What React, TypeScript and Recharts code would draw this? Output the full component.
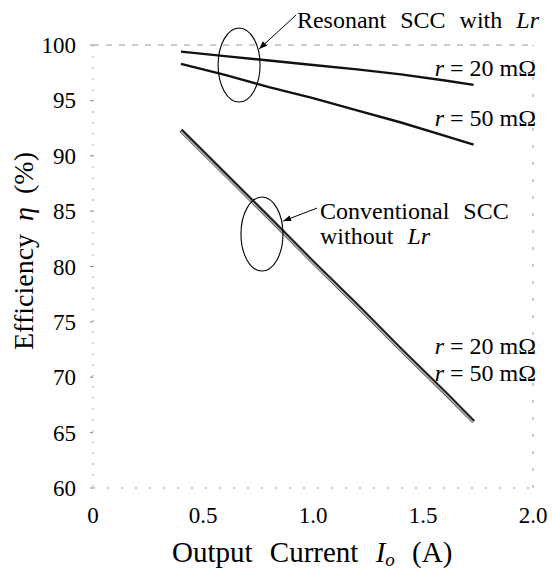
import { LineChart, Line, XAxis, YAxis, ReferenceLine, ReferenceDot } from 'recharts';

const current = [0.4, 0.6, 0.8, 1.0, 1.2, 1.4, 1.6, 1.73];
const resonant20 = [99.4, 99.0, 98.6, 98.2, 97.8, 97.35, 96.8, 96.4];
const resonant50 = [98.3, 97.3, 96.2, 95.2, 94.1, 93.0, 91.8, 91.0];
const conventional20 = [92.3, 88.35, 84.4, 80.4, 76.5, 72.5, 68.6, 66.0];
const conventional50 = [92.2, 88.25, 84.3, 80.3, 76.4, 72.4, 68.5, 65.9];

const xTicks = [0, 0.5, 1.0, 1.5, 2.0];
const xTickLabels = ['0', '0.5', '1.0', '1.5', '2.0'];
const yTicks = [60, 65, 70, 75, 80, 85, 90, 95, 100];

const data = current.map((c, i) => ({
  current: c,
  res20: resonant20[i],
  res50: resonant50[i],
  conv20: conventional20[i],
  conv50: conventional50[i],
}));

const FONT = '"Liberation Serif", "Times New Roman", serif';

const XTick = ({ x, y, payload }: any) => (
  <text x={x} y={y + 19} fontFamily={FONT} fontSize={23} fill="#000" textAnchor="middle">
    {xTickLabels[xTicks.indexOf(payload.value)]}
  </text>
);

const YTick = ({ x, y, payload }: any) => (
  <text x={x - 8} y={y + 8} fontFamily={FONT} fontSize={23} fill="#000" textAnchor="end">
    {payload.value}
  </text>
);

const Ellipse = ({ cx, cy }: any) => (
  <ellipse cx={cx} cy={cy} rx={21} ry={37} fill="none" stroke="#000" strokeWidth={1.1} />
);

// arrow drawn relative to its tip
const Arrow = ({ cx, cy, dx, dy }: any) => {
  const len = Math.sqrt(dx * dx + dy * dy);
  const ux = -dx / len;
  const uy = -dy / len;
  const px = -uy;
  const py = ux;
  const h = 8;
  const w = 3;
  return (
    <g>
      <line x1={cx + dx} y1={cy + dy} x2={cx} y2={cy} stroke="#000" strokeWidth={1} />
      <polygon
        points={`${cx},${cy} ${cx - ux * h + px * w},${cy - uy * h + py * w} ${cx - ux * h - px * w},${cy - uy * h - py * w}`}
        fill="#000"
      />
    </g>
  );
};

const Label = ({ cx, cy, lines, anchor, spacing }: any) => (
  <text
    x={cx}
    y={cy}
    fontFamily={FONT}
    fontSize={24}
    fill="#000"
    textAnchor={anchor || 'start'}
    style={{ wordSpacing: spacing ?? 8 }}
  >
    {lines}
  </text>
);

const RLabel = ({ value }: { value: string }) => (
  <>
    <tspan fontStyle="italic">r</tspan>
    <tspan> = {value} mΩ</tspan>
  </>
);

export default function App() {
  return (
    <div style={{ position: 'absolute', left: 0, top: 0, width: 552, height: 570, background: '#fff', fontFamily: FONT }}>
      <LineChart width={552} height={570} data={data} margin={{ top: 45, right: 19, bottom: 42, left: 33 }}>
        <XAxis
          dataKey="current"
          type="number"
          domain={[0, 2]}
          ticks={xTicks}
          height={40}
          tickSize={0}
          tickMargin={16}
          axisLine={{ stroke: '#999', strokeDasharray: '2 12' }}
          tick={<XTick />}
        />
        <YAxis
          type="number"
          domain={[60, 100]}
          ticks={yTicks}
          width={60}
          tickSize={3}
          tickMargin={6}
          interval={0}
          axisLine={{ stroke: '#aaa', strokeDasharray: '2 9' }}
          tickLine={{ stroke: '#888' }}
          tick={<YTick />}
        />
        <ReferenceLine y={100} stroke="#999" strokeDasharray="6 7" />
        <ReferenceLine x={2} stroke="#999" strokeDasharray="3 14" />

        <Line dataKey="res20" stroke="#111" strokeWidth={2.4} dot={false} isAnimationActive={false} />
        <Line dataKey="res50" stroke="#111" strokeWidth={2.4} dot={false} isAnimationActive={false} />
        <Line dataKey="conv20" stroke="#222" strokeWidth={4} dot={false} isAnimationActive={false} />
        <Line dataKey="conv50" stroke="#bbb" strokeWidth={1.4} dot={false} isAnimationActive={false} />

        <ReferenceDot x={0.664} y={98.19} r={0} ifOverflow="visible" shape={(p: any) => <Ellipse {...p} />} />
        <ReferenceDot x={0.768} y={82.93} r={0} ifOverflow="visible" shape={(p: any) => <Ellipse {...p} />} />
        <ReferenceDot x={0.755} y={99.64} r={0} ifOverflow="visible" shape={(p: any) => <Arrow {...p} dx={37} dy={-34} />} />
        <ReferenceDot x={0.864} y={84.1} r={0} ifOverflow="visible" shape={(p: any) => <Arrow {...p} dx={34} dy={-13} />} />

        <ReferenceDot x={0.927} y={101.53} r={0} ifOverflow="visible" shape={(p: any) => (
          <Label {...p} lines={<><tspan>Resonant SCC with </tspan><tspan fontStyle="italic">Lr</tspan></>} />
        )} />
        <ReferenceDot x={1.032} y={84.29} r={0} ifOverflow="visible" shape={(p: any) => (
          <Label {...p} lines={<tspan>Conventional SCC</tspan>} />
        )} />
        <ReferenceDot x={1.032} y={82.03} r={0} ifOverflow="visible" shape={(p: any) => (
          <Label {...p} lines={<><tspan>without </tspan><tspan fontStyle="italic">Lr</tspan></>} />
        )} />
        <ReferenceDot x={2.014} y={97.16} r={0} ifOverflow="visible" shape={(p: any) => (
          <Label {...p} anchor="end" spacing={0} lines={<RLabel value="20" />} />
        )} />
        <ReferenceDot x={2.014} y={92.69} r={0} ifOverflow="visible" shape={(p: any) => (
          <Label {...p} anchor="end" spacing={0} lines={<RLabel value="50" />} />
        )} />
        <ReferenceDot x={2.014} y={72.06} r={0} ifOverflow="visible" shape={(p: any) => (
          <Label {...p} anchor="end" spacing={0} lines={<RLabel value="20" />} />
        )} />
        <ReferenceDot x={2.014} y={69.66} r={0} ifOverflow="visible" shape={(p: any) => (
          <Label {...p} anchor="end" spacing={0} lines={<RLabel value="50" />} />
        )} />
      </LineChart>
      <div
        style={{
          position: 'absolute',
          left: 172,
          top: 536,
          whiteSpace: 'nowrap',
          fontSize: 29,
          lineHeight: '32px',
          wordSpacing: 10,
        }}
      >
        Output Current <i>I<sub style={{ fontSize: 19, verticalAlign: '-4px' }}>o</sub></i> (A)
      </div>
      <div
        style={{
          position: 'absolute',
          left: 24,
          top: 251,
          transform: 'translate(-50%, -50%) rotate(-90deg)',
          fontSize: 28,
          lineHeight: '32px',
          whiteSpace: 'nowrap',
          wordSpacing: 6,
        }}
      >
        Efficiency <i>η</i> (%)
      </div>
    </div>
  );
}
